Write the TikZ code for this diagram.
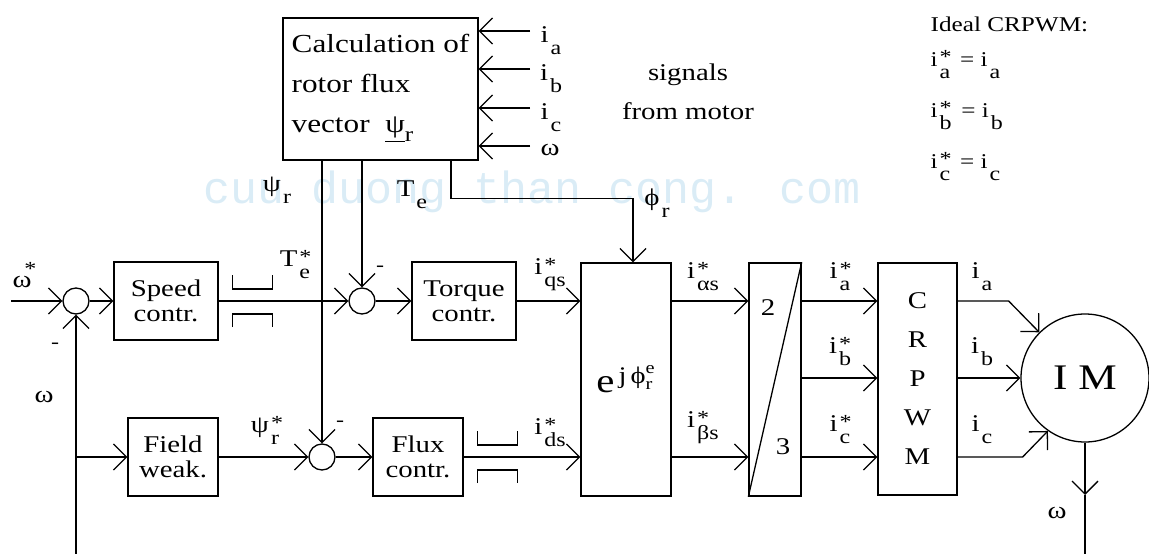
\documentclass[tikz,border=0pt]{standalone}
\usepackage{amsmath}
\usepackage{fontspec}
\setmainfont{Liberation Serif}[FakeStretch=1.2]
\newfontfamily\wmfont{Liberation Mono}
\usetikzlibrary{arrows.meta,calc}
\definecolor{wmblue}{RGB}{218,236,246}
% symbol with raised and lowered index
\newcommand\lbl[3]{#1\kern2pt\rlap{\raisebox{3pt}{\fontsize{20}{20}\selectfont #2}}\raisebox{-12pt}{\fontsize{20}{20}\selectfont #3}}

\begin{document}
\begin{tikzpicture}[
    x=1pt, y=-1pt,
    >={Straight Barb[length=13pt,width=26pt]},
    line width=1.3pt,
    every node/.style={font=\fontsize{24}{25}\selectfont, inner sep=0pt},
    blk/.style={draw, align=center, minimum height=78pt},
    sumj/.style={draw, circle, minimum size=26pt},
    tall/.style={draw, minimum width=#1, minimum height=233pt},
    sgn/.style={font=\fontsize{20}{20}\selectfont},
    small/.style={anchor=west, font=\fontsize{21}{22}\selectfont},
    arr/.style={->},
    limiter/.pic={
      \draw (0,-26) -- (0,-12) -- (40,-12) -- (40,-26);
      \draw (0,26) -- (0,13) -- (40,13) -- (40,26);
    }
  ]
    \useasboundingbox (0,0) rectangle (1149,554);

    % watermark
    \node[text=wmblue, font=\wmfont\fontsize{45}{45}\selectfont] (wmark) at (532,192) {cuu duong than cong. com};

    % blocks
    \node[blk, minimum width=195pt, minimum height=142pt, align=left,
          font=\fontsize{26}{40}\selectfont] (calc) at (380.5,89)
          {Calculation of\\rotor flux\\vector \ \underline{ψ}\raisebox{-9pt}{\fontsize{21}{21}\selectfont r}};
    \node[blk, minimum width=104pt] (spd) at (166,301) {Speed\\contr.};
    \node[blk, minimum width=90pt]  (fld) at (173,457) {Field\\weak.};
    \node[blk, minimum width=104pt] (trq) at (464,301) {Torque\\contr.};
    \node[blk, minimum width=90pt]  (flx) at (418,457) {Flux\\contr.};
    \node[tall=90pt, font=\fontsize{34}{34}\selectfont] (rot) at (626,379.5)
          {\raisebox{-8pt}{$\text{e}^{\,\text{j}\,\text{ϕ}^{\text{e}}_{\text{r}}}$}};
    \node[tall=52pt] (tr23) at (775,379.5) {};
    \node (two)   at (768,308) {2};
    \node (three) at (783,447) {3};
    \node[tall=79pt, minimum height=232pt, align=center,
          font=\fontsize{24}{39}\selectfont] (pwm) at (917.5,379) {C\\R\\P\\W\\M};
    \node[draw, circle, minimum size=128pt, font=\fontsize{36}{36}\selectfont] (im) at (1085,378) {I M};

    % summing junctions
    \node[sumj] (s1) at (76,301) {};
    \node[sumj] (s2) at (362,301) {};
    \node[sumj] (s3) at (322,457) {};

    \coordinate (wref) at (11,301);
    \coordinate (fbk)  at (76,554);
    \coordinate (wtip) at (1085,495);
    \coordinate (wend) at (1085,554);

    % upper path
    \draw[arr] (wref) -- (s1.west);
    \draw[arr] (s1.east) -- (spd.west);
    \draw[arr] (spd.east) -- (s2.west);
    \draw[arr] (s2.east) -- (trq.west);
    \draw[arr] (trq.east) -- (rot.west |- trq.east);
    \pic at ([xshift=14pt]spd.east) {limiter};

    % lower path
    \draw[arr] (fbk) -- (s1.south);
    \draw[arr] (s1 |- fld) -- (fld.west);
    \draw[arr] (fld.east) -- (s3.west);
    \draw[arr] (s3.east) -- (flx.west);
    \draw[arr] (flx.east) -- (rot.west |- flx.east);
    \pic at ([xshift=14pt]flx.east) {limiter};

    % from the flux calculator
    \draw[arr] (s3 |- calc.south) -- (s3.north);
    \draw[arr] (s2 |- calc.south) -- (s2.north);
    \draw[arr] ([xshift=70.5pt]calc.south) -- ++(0,38) -| ([xshift=7pt]rot.north);
    \foreach \y/\n in {31/a, 69/b, 108/c, 146/w} {
      \coordinate (in\n) at (530,\y);
      \draw[arr] (in\n) -- (calc.east |- in\n);
    }

    % transformations and inverter
    \draw[arr] (rot.east |- trq.east) -- (tr23.west |- trq.east);
    \draw[arr] (rot.east |- flx.east) -- (tr23.west |- flx.east);
    \draw (tr23.south west) -- (tr23.north east);
    \foreach \r in {trq, im, flx}
      \draw[arr] (tr23.east |- \r) -- (pwm.west |- \r);
    \draw[arr] (pwm.east |- trq) -- ++(51,0) -- (im.135);
    \draw[arr] (pwm.east |- im) -- (im.west);
    \draw[arr] (pwm.east |- flx) -- ++(65,0) -- (im.235);
    \draw[arr] (im.south) -- (wtip);
    \draw (wtip) -- (wend);

    % labels
    \node (lwref) at (22,275) {ω\rlap{\kern-7pt\raisebox{12pt}{\fontsize{20}{20}\selectfont *}}};
    \node[sgn] (m1) at (55,346) {-};
    \node (lwfb) at (44,397) {ω};
    \node (ltes) at (295,265) {\lbl{T}{*}{e}};
    \node[sgn] (m2) at (380,269) {-};
    \node (lpsi) at (277,190) {\lbl{ψ}{}{r}};
    \node (lte)  at (412,195) {\lbl{T}{}{e}};
    \node (lphi) at (657,203) {\lbl{ϕ}{}{r}};
    \node (lpsis) at (265,430) {\lbl{ψ}{*}{r}};
    \node[sgn] (m3) at (340,424) {-};
    \node (liqs) at (550,275) {\lbl{i}{*}{qs}};
    \node (lids) at (550,433) {\lbl{i}{*}{ds}};
    \node (lial) at (703,277) {\lbl{i}{*}{αs}};
    \node (libe) at (703,428) {\lbl{i}{*}{βs}};
    \foreach \n/\y in {a/277, b/352, c/430} {
      \node (lref\n) at (840,\y) {\lbl{i}{*}{\n}};
      \node (lout\n) at (982,\y) {\lbl{i}{}{\n}};
    }
    \node (lwout) at (1057,513) {ω};
    \node (lina) at (551,41) {\lbl{i}{}{a}};
    \node (linb) at (551,79) {\lbl{i}{}{b}};
    \node (linc) at (551,118) {\lbl{i}{}{c}};
    \node (linw) at (550,150) {ω};
    \node[align=center, font=\fontsize{24}{39}\selectfont] (sig) at (688,92) {signals\\from motor};

    % ideal CRPWM note
    \node[small] (ideal) at (930,24) {Ideal CRPWM:};
    \foreach \n/\y in {a/65, b/116, c/167}
      \node[small] (eq\n) at (930,\y) {\lbl{i}{*}{\n}\ \,=\ \lbl{i}{}{\n}};
  \end{tikzpicture}
\end{document}
